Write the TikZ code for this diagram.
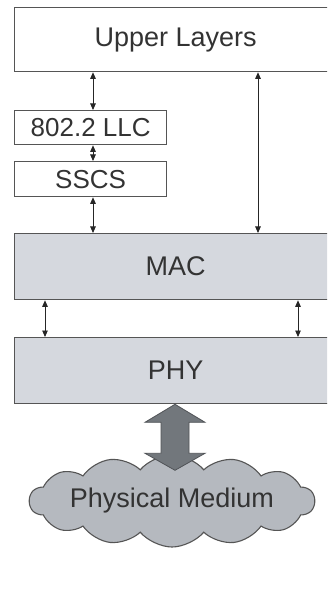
\documentclass[tikz,border=0pt]{standalone}
\usepackage{fontspec}
\setmainfont{Liberation Sans}
\usetikzlibrary{shapes.symbols,arrows.meta,calc}
\definecolor{txt}{HTML}{333333}
\definecolor{edge}{HTML}{555555}
\definecolor{layerfill}{HTML}{D5D8DE}
\definecolor{cloudfill}{HTML}{B5B9BF}
\definecolor{bigarrow}{HTML}{72777C}
\tikzset{
  layer/.style={draw=edge, line width=1.3pt, anchor=north west, inner sep=0pt,
    text=txt, font=\fontsize{27}{27}\selectfont},
  small/.style={font=\fontsize{26}{26}\selectfont},
  link/.style={draw=black!85, line width=0.9pt,
    {Triangle[width=5.5pt,length=6.5pt]}-{Triangle[width=5.5pt,length=6.5pt]}},
}
\begin{document}
\begin{tikzpicture}[x=1pt,y=-1pt]
\useasboundingbox (0,0) rectangle (327,609);
\clip (0,0) rectangle (327,609);
\fill[white] (0,0) rectangle (327,609);
\node[layer, fill=white, minimum width=322pt, minimum height=64pt] (upper) at (14,7) {Upper Layers};
\node[layer, small, fill=white, minimum width=152pt, minimum height=34pt] (llc) at (14,110) {802.2 LLC};
\node[layer, small, fill=white, minimum width=152pt, minimum height=35pt] (sscs) at (14,161) {SSCS};
\node[layer, fill=layerfill, minimum width=322pt, minimum height=66pt] (mac) at (14,233) {MAC};
\node[layer, fill=layerfill, minimum width=322pt, minimum height=66pt] (phy) at (14,337) {PHY};
\node[cloud, cloud puffs=14, cloud puff arc=100, cloud ignores aspect, draw=edge, line width=1.1pt, fill=cloudfill,
  minimum width=246pt, minimum height=92pt, inner sep=0pt, text=txt,
  font=\fontsize{27}{27}\selectfont] (medium) at (172,501) {Physical Medium};
% connectors
\draw[link] (upper.south -| 93,0) -- (llc.north -| 93,0);
\draw[link] (llc.south -| 93,0) -- (sscs.north -| 93,0);
\draw[link] (sscs.south -| 93,0) -- (mac.north -| 93,0);
\draw[link] (upper.south -| 258,0) -- (mac.north -| 258,0);
\draw[link] (mac.south -| 45,0) -- (phy.north -| 45,0);
\draw[link] (mac.south -| 298,0) -- (phy.north -| 298,0);
% big double arrow between PHY and medium
\coordinate (t) at (phy.south -| 175,0);
\filldraw[fill=bigarrow, draw=bigarrow!70!black, line width=0.8pt, line join=miter]
  (t) -- ($(t)+(30,18)$) -- ($(t)+(14,18)$) -- ($(t)+(14,49)$) -- ($(t)+(30,49)$)
  -- ($(t)+(0,66)$) -- ($(t)+(-30,49)$) -- ($(t)+(-14,49)$) -- ($(t)+(-14,18)$)
  -- ($(t)+(-30,18)$) -- cycle;
\end{tikzpicture}
\end{document}
